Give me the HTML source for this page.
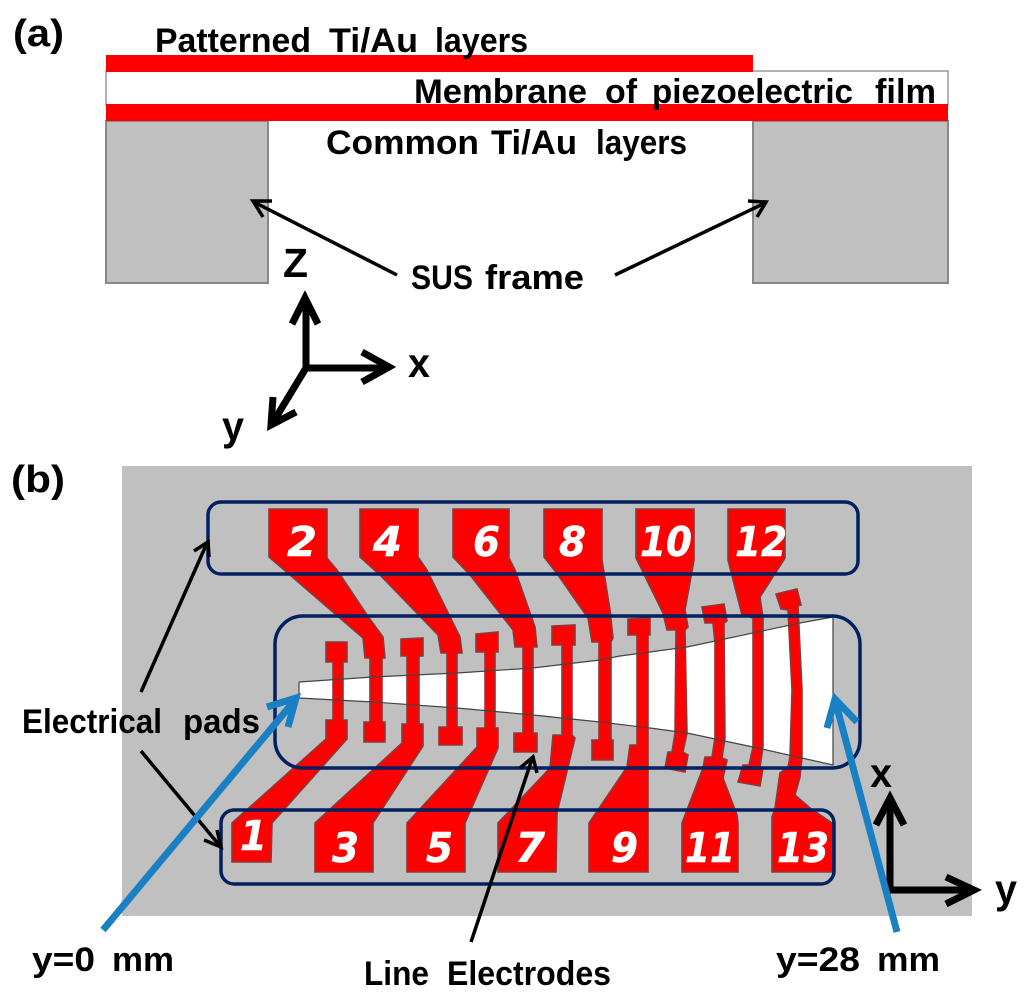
<!DOCTYPE html>
<html><head><meta charset="utf-8"><style>
html,body{margin:0;padding:0;background:#fff}
svg{display:block}
.t{font-family:"Liberation Sans",sans-serif;font-weight:bold;fill:#000;font-size:34px}
.n{font-family:"DejaVu Sans",sans-serif;font-weight:bold;font-style:italic;fill:#fff;stroke:#fff;stroke-width:.5px;font-size:41px}
.r polygon{fill:#f00;stroke:#8a3a3a;stroke-width:1.6}
</style></head><body>
<svg width="1024" height="1000" viewBox="0 0 1024 1000" xmlns="http://www.w3.org/2000/svg">
<!-- (a) -->
<rect x="106" y="121" width="162" height="162" fill="#c0c0c0" stroke="#888" stroke-width="2"/>
<rect x="753" y="121" width="195" height="162" fill="#c0c0c0" stroke="#888" stroke-width="2"/>
<rect x="106" y="71" width="842" height="34" fill="#fff" stroke="#999" stroke-width="1.5"/>
<rect x="106" y="55" width="647" height="17" fill="#f00"/>
<rect x="106" y="104" width="842" height="17" fill="#f00"/>
<text class="t" x="13" y="46" textLength="51" lengthAdjust="spacingAndGlyphs" style="font-size:38px">(a)</text>
<text class="t" x="155" y="52" textLength="156" lengthAdjust="spacingAndGlyphs">Patterned</text>
<text class="t" x="329" y="52" textLength="89" lengthAdjust="spacingAndGlyphs">Ti/Au</text>
<text class="t" x="435" y="52" textLength="93" lengthAdjust="spacingAndGlyphs">layers</text>
<text class="t" x="414" y="103" textLength="173" lengthAdjust="spacingAndGlyphs">Membrane</text>
<text class="t" x="605" y="103" textLength="32" lengthAdjust="spacingAndGlyphs">of</text>
<text class="t" x="652" y="103" textLength="201" lengthAdjust="spacingAndGlyphs">piezoelectric</text>
<text class="t" x="875" y="103" textLength="61" lengthAdjust="spacingAndGlyphs">film</text>
<text class="t" x="326" y="154" textLength="153" lengthAdjust="spacingAndGlyphs">Common</text>
<text class="t" x="491" y="154" textLength="86" lengthAdjust="spacingAndGlyphs">Ti/Au</text>
<text class="t" x="596" y="154" textLength="91" lengthAdjust="spacingAndGlyphs">layers</text>
<text class="t" x="411" y="289" textLength="62" lengthAdjust="spacingAndGlyphs">SUS</text>
<text class="t" x="485" y="289" textLength="99" lengthAdjust="spacingAndGlyphs">frame</text>
<g fill="none" stroke="#000" stroke-width="3.5">
<path d="M397 275L254 202M272 201L253 201L263 217"/>
<path d="M615 275L765 203M748 201L766 202L757 217"/>
</g>
<g fill="none" stroke="#000" stroke-width="7">
<path d="M306 368V300M292 324L305 298L318 324"/>
<path d="M306 368H387M362 352L389 367L362 382"/>
<path d="M306 368L272 424M273 397L271 425L296 412"/>
</g>
<text class="t" x="283" y="277" style="font-size:41px" textLength="25" lengthAdjust="spacingAndGlyphs">Z</text>
<text class="t" x="408" y="377" style="font-size:41px" textLength="22" lengthAdjust="spacingAndGlyphs">x</text>
<text class="t" x="222" y="440" style="font-size:41px" textLength="22" lengthAdjust="spacingAndGlyphs">y</text>
<!-- (b) -->
<text class="t" x="11" y="492" textLength="54" lengthAdjust="spacingAndGlyphs" style="font-size:38px">(b)</text>
<rect x="122" y="466" width="850" height="450" fill="#c0c0c0"/>
<polygon fill="#fff" points="299,682 373,677 457,673 533,668 600,660 620,656 687,647 800,623 833,617 833,765 753,747 687,733 650,728 600,722 533,715 457,708 373,702 299,698"/>
<g class="r">
<!-- odd electrodes -->
<polygon points="326,642 347,642 347,662 343,662 343,720 347,720 347,739 272,823 271,862 232,862 232,823 326,739 326,720 333,720 333,662 326,662"/>
<polygon points="401,639 423,638 423,656 419,656 419,724 423,724 423,746 373,823 373,872 315,872 315,823 402,743 402,724 407,724 407,656 401,656"/>
<polygon points="476,634 498,632 498,652 495,652 495,728 498,728 498,748 465,823 465,872 407,872 407,823 477,747 477,728 485,728 485,652 476,652"/>
<polygon points="552,626 575,625 575,645 572,645 572,735 575,738 557,813 556,872 498,872 498,823 550,768 553,735 562,735 562,645 552,645"/>
<polygon points="628,619 650,618 650,635 648,635 648,872 589,872 589,823 627,767 630,745 637,745 637,635 628,635"/>
<polygon points="702,607 724,604 727,621 724,623 725,738 722,758 727,760 723,778 737,815 738,823 738,872 682,872 682,823 703,768 705,757 712,757 715,738 715,643 713,623 705,623"/>
<polygon points="776,594 797,589 801,605 798,606 802,690 802,757 800,777 795,795 810,808 832,823 832,872 772,872 772,817 775,808 780,773 788,767 790,757 792,690 788,610 781,609"/>
<!-- even electrodes -->
<polygon points="269,509 327,509 327,558 337,570 367,615 383,637 385,658 382,658 382,722 385,722 385,742 364,742 364,722 370,722 370,658 365,658 363,638 290,575 269,557"/>
<polygon points="360,509 418,509 418,557 427,570 460,637 462,653 457,653 457,727 462,727 462,745 439,745 439,727 447,727 447,653 441,653 438,635 380,575 360,557"/>
<polygon points="453,509 509,509 509,558 515,570 535,627 537,647 533,647 533,733 537,733 537,752 514,752 514,733 523,733 523,647 515,647 513,630 470,575 453,557"/>
<polygon points="544,509 602,509 602,560 610,610 613,638 611,642 611,740 613,740 613,760 592,760 592,740 599,740 599,642 592,642 588,618 558,575 544,557"/>
<polygon points="636,509 694,509 694,560 685,610 688,627 685,630 687,733 683,752 688,755 685,772 665,768 668,752 672,752 675,733 676,630 667,630 663,613 636,558"/>
<polygon points="728,509 785,509 785,558 760,597 763,618 763,747 760,767 763,768 760,786 738,782 743,765 749,765 753,747 753,618 742,615 728,560"/>
</g>
<polyline fill="none" stroke="#444" stroke-width="1.2" points="299,682 373,677 457,673 533,668 600,660 620,656 687,647 800,623 833,617 833,765 753,747 687,733 650,728 600,722 533,715 457,708 373,702 299,698 299,682"/>
<g fill="none" stroke="#002060" stroke-width="3.5">
<rect x="208" y="502" width="650" height="72" rx="13"/>
<rect x="275" y="616" width="585" height="152" rx="28"/>
<rect x="221" y="810" width="613" height="74" rx="13"/>
</g>
<text class="n" x="287" y="556" textLength="30" lengthAdjust="spacingAndGlyphs">2</text>
<text class="n" x="373" y="556" textLength="29" lengthAdjust="spacingAndGlyphs">4</text>
<text class="n" x="473" y="556" textLength="27" lengthAdjust="spacingAndGlyphs">6</text>
<text class="n" x="559" y="556" textLength="27" lengthAdjust="spacingAndGlyphs">8</text>
<text class="n" x="640" y="556" textLength="52" lengthAdjust="spacingAndGlyphs">10</text>
<text class="n" x="735" y="556" textLength="52" lengthAdjust="spacingAndGlyphs">12</text>
<text class="n" x="240" y="850" textLength="27" lengthAdjust="spacingAndGlyphs">1</text>
<text class="n" x="332" y="862" textLength="27" lengthAdjust="spacingAndGlyphs">3</text>
<text class="n" x="426" y="862" textLength="27" lengthAdjust="spacingAndGlyphs">5</text>
<text class="n" x="515" y="862" textLength="30" lengthAdjust="spacingAndGlyphs">7</text>
<text class="n" x="611" y="862" textLength="27" lengthAdjust="spacingAndGlyphs">9</text>
<text class="n" x="685" y="862" textLength="50" lengthAdjust="spacingAndGlyphs">11</text>
<text class="n" x="777" y="862" textLength="52" lengthAdjust="spacingAndGlyphs">13</text>
<!-- black arrows -->
<g fill="none" stroke="#000" stroke-width="3.5">
<path d="M141 692L207 543M194 551L208 542L209 557"/>
<path d="M141 751L220 846M204 840L221 847L217 830"/>
<path d="M471 942L532 759M520 768L533 757L537 773"/>
</g>
<g fill="none" stroke="#000" stroke-width="7">
<path d="M890 890V800M876 825L890 798L904 825"/>
<path d="M887 890H972M946 877L974 890L946 904"/>
</g>
<!-- blue arrows -->
<g fill="none" stroke="#1a80c4" stroke-width="7">
<path d="M103 930L295 700M267 707L296 698L288 727"/>
<path d="M897 932L835 700M827 728L835 699L857 722"/>
</g>
<text class="t" x="22" y="733" textLength="140" lengthAdjust="spacingAndGlyphs">Electrical</text>
<text class="t" x="183" y="733" textLength="77" lengthAdjust="spacingAndGlyphs">pads</text>
<text class="t" x="870" y="787" style="font-size:41px" textLength="22" lengthAdjust="spacingAndGlyphs">x</text>
<text class="t" x="995" y="903" style="font-size:41px" textLength="22" lengthAdjust="spacingAndGlyphs">y</text>
<text class="t" x="32" y="971" textLength="63" lengthAdjust="spacingAndGlyphs">y=0</text>
<text class="t" x="112" y="971" textLength="62" lengthAdjust="spacingAndGlyphs">mm</text>
<text class="t" x="364" y="985" textLength="65" lengthAdjust="spacingAndGlyphs">Line</text>
<text class="t" x="447" y="985" textLength="164" lengthAdjust="spacingAndGlyphs">Electrodes</text>
<text class="t" x="776" y="971" textLength="84" lengthAdjust="spacingAndGlyphs">y=28</text>
<text class="t" x="877" y="971" textLength="63" lengthAdjust="spacingAndGlyphs">mm</text>
</svg>
</body></html>
